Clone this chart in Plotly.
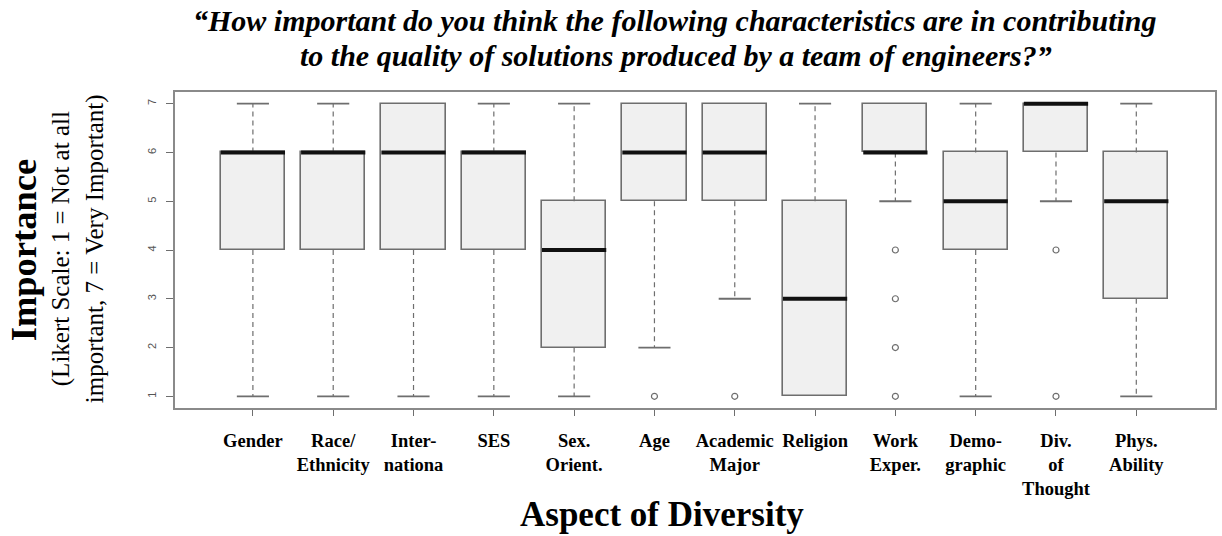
import plotly.graph_objects as go

# Survey ratings (Likert 1-7) summarised as box-plot statistics per aspect
categories = ["Gender", "Race/<br>Ethnicity", "Inter-<br>nationa", "SES", "Sex.<br>Orient.",
              "Age", "Academic<br>Major", "Religion", "Work<br>Exper.", "Demo-<br>graphic",
              "Div.<br>of<br>Thought", "Phys.<br>Ability"]
lower_whisker = [1, 1, 1, 1, 1, 2, 3, 1, 5, 1, 5, 1]
q1 = [4, 4, 4, 4, 2, 5, 5, 1, 6, 4, 6, 3]
median = [6, 6, 6, 6, 4, 6, 6, 3, 6, 5, 7, 5]
q3 = [6, 6, 7, 6, 5, 7, 7, 5, 7, 6, 7, 6]
upper_whisker = [7, 7, 7, 7, 7, 7, 7, 7, 7, 7, 7, 7]
outliers = [[], [], [], [], [], [1], [1], [], [4, 3, 2, 1], [], [4, 1], []]

y_ticks = [1, 2, 3, 4, 5, 6, 7]

BOX_W = 0.8
CAP_W = 0.4
GREY = "#6e6e6e"
SERIF = "Liberation Serif, Times New Roman, serif"

pos = list(range(1, len(categories) + 1))

fig = go.Figure()

# Box bodies (interquartile range)
fig.add_trace(go.Bar(
    x=pos, y=[b - a for a, b in zip(q1, q3)], base=q1, width=BOX_W,
    marker=dict(color="#f0f0f0", line=dict(color=GREY, width=1.6)),
    hoverinfo="skip", showlegend=False,
))

# Dashed whiskers
wx, wy = [], []
for p, lo, a, b, hi in zip(pos, lower_whisker, q1, q3, upper_whisker):
    if hi > b:
        wx += [p, p, None]
        wy += [b, hi, None]
    if lo < a:
        wx += [p, p, None]
        wy += [a, lo, None]
fig.add_trace(go.Scatter(x=wx, y=wy, mode="lines",
                         line=dict(color=GREY, width=1.2, dash="5px,4px"),
                         hoverinfo="skip", showlegend=False))

# Whisker caps
cx, cy = [], []
for p, lo, a, b, hi in zip(pos, lower_whisker, q1, q3, upper_whisker):
    if hi > b:
        cx += [p - CAP_W / 2, p + CAP_W / 2, None]
        cy += [hi, hi, None]
    if lo < a:
        cx += [p - CAP_W / 2, p + CAP_W / 2, None]
        cy += [lo, lo, None]
fig.add_trace(go.Scatter(x=cx, y=cy, mode="lines",
                         line=dict(color=GREY, width=1.8),
                         hoverinfo="skip", showlegend=False))

# Medians
mx, my = [], []
for p, m in zip(pos, median):
    mx += [p - BOX_W / 2, p + BOX_W / 2, None]
    my += [m, m, None]
fig.add_trace(go.Scatter(x=mx, y=my, mode="lines",
                         line=dict(color="#111111", width=4),
                         hoverinfo="skip", showlegend=False))

# Outliers
ox, oy = [], []
for p, outs in zip(pos, outliers):
    for v in outs:
        ox.append(p)
        oy.append(v)
fig.add_trace(go.Scatter(x=ox, y=oy, mode="markers",
                         marker=dict(symbol="circle-open", size=6, color=GREY,
                                     line=dict(width=1.2)),
                         hoverinfo="skip", showlegend=False))

L, R, T, B = 175, 5, 92, 128
W, H = 1222, 536
plot_w = W - L - R
plot_h = H - T - B


def px_x(x):
    return (x - L) / plot_w


def px_y(y):
    return (H - B - y) / plot_h


annotations = [
    dict(text="<b><i>“How important do you think the following characteristics are in contributing</i></b>",
         x=px_x(676), y=px_y(21), font=dict(family=SERIF, size=30, color="black")),
    dict(text="<b><i>to the quality of solutions produced by a team of engineers?”</i></b>",
         x=px_x(677), y=px_y(55), font=dict(family=SERIF, size=30, color="black")),
    dict(text="<b>Aspect of Diversity</b>",
         x=px_x(663), y=px_y(514), font=dict(family=SERIF, size=35, color="black")),
    dict(text="<b>Importance</b>", textangle=-90,
         x=px_x(23), y=px_y(250), font=dict(family=SERIF, size=36.5, color="black")),
    dict(text="(Likert Scale: 1 = Not at all", textangle=-90,
         x=px_x(61), y=px_y(249), font=dict(family=SERIF, size=25, color="black")),
    dict(text="important, 7 = Very Important)", textangle=-90,
         x=px_x(95), y=px_y(249), font=dict(family=SERIF, size=25, color="black")),
]
for a in annotations:
    a.update(xref="paper", yref="paper", showarrow=False,
             xanchor="center", yanchor="middle")

fig.update_layout(
    width=W, height=H,
    margin=dict(l=L, r=R, t=T, b=B),
    paper_bgcolor="white", plot_bgcolor="white",
    annotations=annotations,
    bargap=0,
)

fig.update_xaxes(
    range=[0.03, 12.98], tickvals=pos, ticktext=[f"<b>{c}</b>" for c in categories],
    ticks="outside", ticklen=6, tickcolor=GREY, tickwidth=1.2,
    tickfont=dict(family=SERIF, size=18.5, color="black"), tickangle=0,
    ticklabelstandoff=9,
    showline=True, linecolor="#8a8a8a", linewidth=2, mirror=True,
    showgrid=False, zeroline=False,
)
fig.update_yaxes(
    range=[0.76, 7.24], tickvals=y_ticks, ticktext=[str(v) for v in y_ticks],
    ticks="outside", ticklen=7, tickcolor=GREY, tickwidth=1.2,
    tickfont=dict(family="Liberation Sans, Arial, sans-serif", size=11, color="#555555"),
    tickangle=-90, ticklabelstandoff=6,
    showline=True, linecolor="#8a8a8a", linewidth=2, mirror=True,
    showgrid=False, zeroline=False,
)

fig.write_html("out.html")
